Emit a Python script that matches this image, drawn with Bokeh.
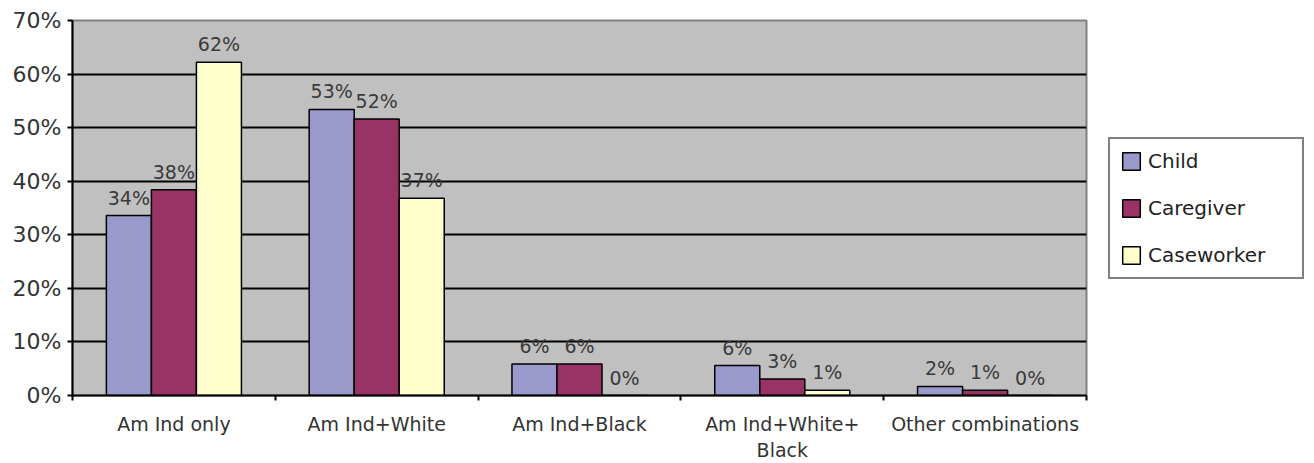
from bokeh.plotting import figure
from bokeh.models import (ColumnDataSource, FixedTicker, PrintfTickFormatter,
                          Range1d, Legend, LegendItem)
from bokeh.transform import dodge
from bokeh.core.properties import value
from bokeh.embed import file_html
from bokeh.resources import INLINE

# Racial identification by respondent type (percent)
categories = ["Am Ind only", "Am Ind+White", "Am Ind+Black",
              "Am Ind+White+\nBlack", "Other combinations"]
series_names = ["Child", "Caregiver", "Caseworker"]
child = [33.6, 53.4, 5.9, 5.6, 1.7]
caregiver = [38.4, 51.6, 5.9, 3.1, 1.0]
caseworker = [62.2, 36.8, 0.0, 1.0, 0.0]
y_ticks = [0, 10, 20, 30, 40, 50, 60, 70]

colors = ["#9999cc", "#993366", "#ffffcc"]
FONT = "DejaVu Sans"

centers = [i + 0.5 for i in range(len(categories))]
data = dict(x=centers)
for name, vals in zip(series_names, [child, caregiver, caseworker]):
    data[name] = vals
    data[name + "_lbl"] = [f"{round(v)}%" for v in vals]
source = ColumnDataSource(data)

p = figure(frame_width=1014, frame_height=375, output_backend="svg",
           toolbar_location=None,
           x_range=Range1d(0, len(categories)), y_range=Range1d(0, 70),
           min_border_left=72, min_border_right=0, min_border_top=20,
           min_border_bottom=68)

p.border_fill_color = "white"
p.outline_line_color = "#808080"
p.outline_line_width = 2

# Frame background and grid
p.background_fill_color = "#c0c0c0"
p.xgrid.visible = False
p.ygrid.ticker = FixedTicker(ticks=y_ticks[1:-1])
p.ygrid.grid_line_color = "black"
p.ygrid.grid_line_width = 2

bar_w = 0.222
renderers = []
for j, name in enumerate(series_names):
    off = (j - 1) * bar_w
    r = p.vbar(x=dodge("x", off, range=p.x_range), top=name, width=bar_w,
               source=source, fill_color=colors[j], line_color="black",
               line_width=1.5)
    renderers.append(r)
    p.text(x=dodge("x", off, range=p.x_range), y=name, text=name + "_lbl",
           source=source, text_align="center", text_baseline="alphabetic",
           y_offset=-18, text_font=value(FONT), text_font_size="19px",
           text_color="#3a3a3a")

# Y axis
p.yaxis.ticker = FixedTicker(ticks=y_ticks)
p.yaxis.formatter = PrintfTickFormatter(format="%d%%")
p.yaxis.major_label_text_font = FONT
p.yaxis.major_label_text_font_size = "22px"
p.yaxis.major_label_text_color = "#333333"
p.yaxis.axis_line_color = "black"
p.yaxis.axis_line_width = 2
p.yaxis.major_tick_line_color = "black"
p.yaxis.major_tick_line_width = 2
p.yaxis.major_tick_in = 0
p.yaxis.major_tick_out = 5
p.yaxis.minor_tick_line_color = None
p.yaxis.major_label_standoff = 6

# X axis: labels at category centres, ticks at category boundaries
p.xaxis.ticker = FixedTicker(ticks=centers,
                             minor_ticks=list(range(len(categories) + 1)))
p.xaxis.major_label_overrides = {c: lab for c, lab in zip(centers, categories)}
p.xaxis.major_label_text_font = FONT
p.xaxis.major_label_text_font_size = "19px"
p.xaxis.major_label_text_color = "#333333"
p.xaxis.major_tick_line_color = None
p.xaxis.minor_tick_line_color = "black"
p.xaxis.minor_tick_line_width = 2
p.xaxis.minor_tick_in = 0
p.xaxis.minor_tick_out = 5
p.xaxis.axis_line_color = "black"
p.xaxis.axis_line_width = 2
p.xaxis.major_label_standoff = 11

legend = Legend(items=[LegendItem(label=n, renderers=[r])
                       for n, r in zip(series_names, renderers)],
                location="center_left", orientation="vertical",
                label_text_font=FONT, label_text_font_size="20px",
                label_text_color="#222222",
                glyph_width=22, glyph_height=22, label_height=22,
                label_width=144, spacing=23, padding=10, margin=22,
                label_standoff=6, border_line_color="black",
                border_line_width=2, background_fill_color="white",
                background_fill_alpha=1.0)
p.add_layout(legend, "right")

open("out.html", "w").write(file_html(p, INLINE))
